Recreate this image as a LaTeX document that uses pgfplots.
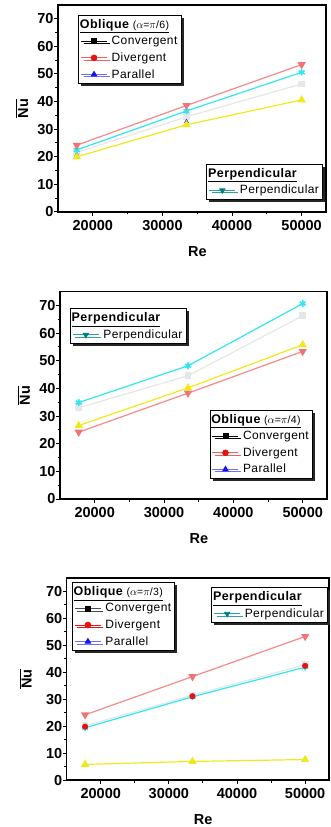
\documentclass[border=0pt]{standalone}
\usepackage{pgfplots}
\pgfplotsset{compat=1.18}
\usepackage{fontspec}
\setmainfont{Liberation Sans}
\newfontfamily\legfont[LetterSpace=3.5]{Liberation Sans}
\usetikzlibrary{shadows}
\definecolor{pinkc}{HTML}{F48A8A}
\definecolor{pinkm}{HTML}{F07474}
\definecolor{cyanc}{HTML}{30E6F0}
\definecolor{grayc}{HTML}{E6E6E6}
\definecolor{yellowc}{HTML}{EEEA1A}
\definecolor{redc}{HTML}{E81010}
\definecolor{redl}{HTML}{F06060}
\definecolor{bluel}{HTML}{7070F0}
\definecolor{bluec}{HTML}{1010F0}
\definecolor{tealc}{HTML}{008080}
\definecolor{teall}{HTML}{30A0A0}
\pgfplotsset{
 base/.style={scale only axis, xmin=15000, xmax=53500, ymin=0, ymax=75,
  xtick={20000,30000,40000,50000}, ytick={0,10,...,70},
  minor x tick num=1, minor y tick num=1,
  xtick pos=left, ytick pos=left, tick align=outside,
  major tick length=4pt, minor tick length=2.5pt,
  axis line style={line width=1.2pt},
  every tick/.style={black, line width=1pt},
  tick label style={font=\fontsize{14.5}{16}\selectfont\bfseries},
  xticklabel style={yshift=-1pt},
  yticklabel style={xshift=3pt},
  /pgf/number format/assume math mode=true,
  /pgf/number format/set thousands separator={},
  scaled x ticks=false,
  xlabel={Re},
  xlabel style={font=\fontsize{14.5}{16}\selectfont\bfseries, at={(axis description cs:0.52,0)}, anchor=north, inner sep=0pt, yshift=-34pt},
  ylabel={$\overline{\hbox{\fontsize{14.5}{16}\selectfont\bfseries Nu}}$},
  legend cell align=left,
  legend style={draw=black, line width=1pt, fill=white,
    drop shadow={shadow xshift=2.5pt, shadow yshift=-2.5pt, fill=black!85, opacity=1},
    font=\fontsize{12}{13}\legfont, inner xsep=2pt, inner ysep=2.5pt,
    nodes={inner sep=1.6pt}, row sep=3.2pt,
    /tikz/every odd column/.append style={column sep=2.5pt}},
 },
 limg/.style={legend image code/.code={\draw[mark repeat=2,mark phase=2,line width=0.9pt,##1] plot coordinates {(0pt,0pt) (13pt,0pt) (26pt,0pt)};}},
 hid/.style={scale only axis, xmin=15000, xmax=53500, ymin=0, ymax=75, hide axis},
 pk/.style={pinkc, line width=1.2pt, mark=triangle*, mark size=3.6pt, mark options={rotate=180, fill=pinkm, draw=pinkm}},
 cy/.style={cyanc, line width=1.2pt, mark=asterisk, mark size=3.4pt, mark options={line width=1.6pt}},
 gy/.style={grayc, line width=1.2pt, mark=square*, mark size=2.8pt},
 yl/.style={yellowc, line width=1.2pt, mark=triangle*, mark size=3.6pt},
 lconv/.style={limg, black, mark=square*, mark size=2.5pt},
 ldiv/.style={limg, redl, mark=*, mark size=2.8pt, mark options={fill=redc, draw=redc}},
 lpar/.style={limg, bluel, mark=triangle*, mark size=3pt, mark options={fill=bluec, draw=bluec}},
 lperp/.style={limg, teall, mark=triangle*, mark size=3pt, mark options={rotate=180, fill=tealc, draw=tealc}},
}
\newcommand{\obltitle}[1]{\hspace*{-31.7pt}\underline{{\fontsize{12.5}{14}\selectfont\bfseries Oblique} {\fontsize{10.5}{12}\selectfont($\alpha$=$\pi$/#1)}}}
\newcommand{\perptitle}{\hspace*{-31.7pt}\underline{{\fontsize{12.5}{14}\selectfont\bfseries Perpendicular}}}
\begin{document}
\begin{tikzpicture}
\useasboundingbox (0,0) rectangle (330pt,-827pt);
% ---------- panel 1 ----------
\begin{axis}[base, at={(58pt,-5pt)}, anchor=north west, width=268pt, height=207pt,
  ylabel style={at={(axis description cs:-0.134,0.5)}, anchor=center},
  legend style={at={(0.075,0.952)}, anchor=north west}]
\addlegendimage{empty legend}\addlegendentry{\obltitle{6}}
\addlegendimage{lconv}\addlegendentry{Convergent}
\addlegendimage{ldiv}\addlegendentry{Divergent}
\addlegendimage{lpar}\addlegendentry{Parallel}
\addplot[gy, forget plot] coordinates {(17700,21.5) (33460,34.5) (50000,46.4)};
\addplot[only marks, mark=triangle*, mark size=2.2pt, bluec, forget plot] coordinates {(17700,20.9) (33460,32.8)};
\addplot[yl, forget plot] coordinates {(17700,20.0) (33460,31.6) (50000,40.6)};
\addplot[cy, forget plot] coordinates {(17700,22.5) (33460,36.6) (50000,50.6)};
\addplot[pk, forget plot] coordinates {(17700,24.2) (33460,38.6) (50000,53.4)};
\end{axis}
\begin{axis}[base, hid, at={(58pt,-5pt)}, anchor=north west, width=268pt, height=207pt,
  legend style={at={(0.989,0.058)}, anchor=south east}]
\addlegendimage{empty legend}\addlegendentry{\perptitle}
\addlegendimage{lperp}\addlegendentry{Perpendicular}
\end{axis}
% ---------- panel 2 ----------
\begin{axis}[base, at={(60pt,-291.7pt)}, anchor=north west, width=267pt, height=207.3pt,
  ylabel style={at={(axis description cs:-0.135,0.5)}, anchor=center},
  legend style={at={(0.56,0.43)}, anchor=north west}]
\addlegendimage{empty legend}\addlegendentry{\obltitle{4}}
\addlegendimage{lconv}\addlegendentry{Convergent}
\addlegendimage{ldiv}\addlegendentry{Divergent}
\addlegendimage{lpar}\addlegendentry{Parallel}
\addplot[gy, forget plot] coordinates {(17700,33.0) (33460,44.6) (50000,66.3)};
\addplot[pk, forget plot] coordinates {(17700,24.2) (33460,38.3) (50000,53.4)};
\addplot[yl, forget plot] coordinates {(17700,26.6) (33460,40.2) (50000,55.8)};
\addplot[cy, forget plot] coordinates {(17700,34.9) (33460,48.2) (50000,70.7)};
\end{axis}
\begin{axis}[base, hid, at={(60pt,-291.7pt)}, anchor=north west, width=267pt, height=207.3pt,
  legend style={at={(0.037,0.921)}, anchor=north west}]
\addlegendimage{empty legend}\addlegendentry{\perptitle}
\addlegendimage{lperp}\addlegendentry{Perpendicular}
\end{axis}
% ---------- panel 3 ----------
\begin{axis}[base, at={(66.7pt,-578pt)}, anchor=north west, width=262.3pt, height=202pt,
  ylabel style={at={(axis description cs:-0.156,0.5)}, anchor=center},
  legend style={at={(0.02,0.98)}, anchor=north west}]
\addlegendimage{empty legend}\addlegendentry{\obltitle{3}}
\addlegendimage{lconv, black!70, mark options={fill=black, draw=black}}\addlegendentry{Convergent}
\addlegendimage{ldiv, redc}\addlegendentry{Divergent}
\addlegendimage{lpar}\addlegendentry{Parallel}
\addplot[gy, forget plot] coordinates {(17700,20.1) (33460,31.5) (50000,42.8)};
\addplot[cy, forget plot] coordinates {(17700,19.4) (33460,30.9) (50000,41.9)};
\addplot[only marks, mark=*, mark size=2.8pt, redc, forget plot] coordinates {(17700,19.8) (33460,31.1) (50000,42.4)};
\addplot[pk, forget plot] coordinates {(17700,24.2) (33460,38.4) (50000,53.3)};
\addplot[yl, forget plot] coordinates {(17700,5.8) (33460,6.9) (50000,7.6)};
\end{axis}
\begin{axis}[base, hid, at={(66.7pt,-578pt)}, anchor=north west, width=262.3pt, height=202pt,
  legend style={at={(0.996,0.955)}, anchor=north east}]
\addlegendimage{empty legend}\addlegendentry{\perptitle}
\addlegendimage{lperp}\addlegendentry{Perpendicular}
\end{axis}
\end{tikzpicture}
\end{document}
